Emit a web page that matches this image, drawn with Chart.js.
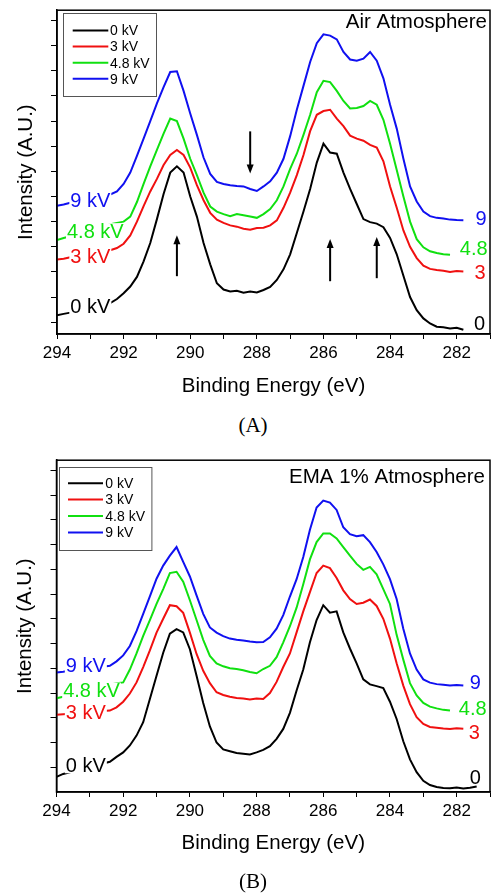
<!DOCTYPE html>
<html><head><meta charset="utf-8">
<script src="https://cdn.jsdelivr.net/npm/chart.js@4.4.0/dist/chart.umd.min.js"></script>
<style>
html,body{margin:0;padding:0;background:#fff;}
body{width:494px;height:894px;position:relative;overflow:hidden;}
.wrap{position:absolute;left:0;width:494px;}
.cap{position:absolute;left:6px;width:494px;text-align:center;font-family:'Liberation Serif','Times New Roman',serif;font-size:21px;line-height:24px;color:#000;}
</style></head><body>
<div class="wrap" style="top:0;height:400px"><canvas id="cA" width="494" height="400"></canvas></div>
<div class="wrap" style="top:450px;height:444px"><canvas id="cB" width="494" height="444"></canvas></div>
<div class="cap" style="top:413px">(A)</div>
<div class="cap" style="top:869px">(B)</div>
<script>
// ---------- DATA ----------
const energy = [
 294.0,293.8,293.6,293.4,293.2,293.0,292.8,292.6,292.4,292.2,
 292.0,291.8,291.6,291.4,291.2,291.0,290.8,290.6,290.4,290.2,
 290.0,289.8,289.6,289.4,289.2,289.0,288.8,288.6,288.4,288.2,
 288.0,287.8,287.6,287.4,287.2,287.0,286.8,286.6,286.4,286.2,
 286.0,285.8,285.6,285.4,285.2,285.0,284.8,284.6,284.4,284.2,
 284.0,283.8,283.6,283.4,283.2,283.0,282.8,282.6,282.4,282.2,
 282.0,281.8,281.6,281.4];
const seriesNames = ['0 kV','3 kV','4.8 kV','9 kV'];
const endLabels = ['0','3','4.8','9'];
const xTickValues = [281,282,283,284,285,286,287,288,289,290,291,292,293,294];
const yTicksA = [0,1,2,3,4,5,6,7,8,9,10,11,12];
const yTicksB = [1,2,3,4,5,6,7,8,9,10,11,12,13];

// Panel A: Air atmosphere
const air0 = [
 0.27,0.33,0.38,0.45,0.52,0.58,0.64,0.70,0.76,0.92,
 1.15,1.42,1.80,2.42,3.15,4.10,5.10,5.95,6.20,5.95,
 5.00,4.20,3.15,2.30,1.55,1.30,1.22,1.25,1.17,1.22,
 1.18,1.28,1.40,1.68,2.10,2.70,3.55,4.40,5.30,6.35,
 7.10,6.75,6.70,5.95,5.30,4.70,4.10,3.98,3.92,3.78,
 3.35,2.70,1.85,1.00,0.48,0.15,-0.05,-0.18,-0.20,-0.25,
 -0.22,-0.30,null,null];
const air3 = [
 2.49,2.52,2.58,2.63,2.68,2.73,2.78,2.82,2.86,2.95,
 3.12,3.45,4.00,4.62,5.20,5.70,6.25,6.65,6.85,6.65,
 6.15,5.45,4.85,4.35,4.08,3.95,3.85,3.80,3.72,3.68,
 3.75,3.76,3.85,4.05,4.55,5.15,5.85,6.65,7.60,8.25,
 8.40,8.45,8.10,7.80,7.42,7.30,7.22,7.05,6.95,6.40,
 5.40,4.55,3.65,3.00,2.55,2.25,2.12,2.08,2.05,2.00,
 2.04,2.02,null,null];
const air48 = [
 3.27,3.35,3.42,3.50,3.58,3.66,3.74,3.82,3.90,3.95,
 4.00,4.20,4.78,5.50,6.20,6.85,7.50,8.10,8.00,7.30,
 6.50,5.85,5.15,4.60,4.40,4.30,4.22,4.30,4.25,4.20,
 4.15,4.30,4.50,4.85,5.40,6.10,6.70,7.45,8.25,9.15,
 9.60,9.55,9.20,8.80,8.50,8.52,8.60,8.80,8.65,8.05,
 7.10,6.05,5.00,4.00,3.30,2.98,2.82,2.75,2.70,2.68,
 null,null,null,null];
const air9 = [
 4.63,4.68,4.75,4.82,4.88,4.93,4.98,5.03,5.08,5.20,
 5.50,5.95,6.62,7.30,8.00,8.70,9.35,9.95,9.98,9.20,
 8.30,7.45,6.55,5.90,5.58,5.50,5.45,5.42,5.40,5.30,
 5.22,5.40,5.60,5.95,6.50,7.40,8.45,9.40,10.35,11.10,
 11.45,11.40,11.25,10.75,10.45,10.40,10.48,10.75,10.40,9.70,
 8.65,7.70,6.50,5.40,4.80,4.40,4.22,4.15,4.12,4.08,
 4.06,4.05,null,null];

// Panel B: EMA 1% atmosphere
const ema0 = [
 0.61,0.73,0.80,0.87,0.94,1.01,1.08,1.15,1.22,1.42,
 1.60,1.88,2.28,2.82,3.76,4.70,5.63,6.40,6.58,6.45,
 5.77,4.70,3.60,2.65,2.00,1.72,1.65,1.58,1.55,1.52,
 1.60,1.70,1.85,2.15,2.55,3.20,4.10,4.95,6.05,6.95,
 7.55,7.25,7.30,6.45,5.80,5.20,4.55,4.35,4.28,4.20,
 3.65,2.95,2.05,1.32,0.80,0.45,0.28,0.20,0.16,0.15,
 0.18,0.14,0.17,0.22];
const ema3 = [
 3.12,3.14,3.16,3.18,3.20,3.22,3.24,3.27,3.29,3.42,
 3.65,3.98,4.43,5.05,5.72,6.44,7.00,7.55,7.51,7.24,
 6.44,5.58,4.90,4.40,4.03,3.92,3.85,3.80,3.78,3.74,
 3.78,3.76,4.00,4.45,5.05,5.60,6.45,7.30,8.08,8.85,
 9.15,9.05,8.65,8.15,7.80,7.60,7.65,7.78,7.52,7.00,
 6.20,5.20,4.30,3.55,3.02,2.75,2.63,2.60,2.57,2.55,
 2.58,2.56,null,null];
const ema48 = [
 3.79,3.85,3.92,3.99,4.06,4.13,4.20,4.27,4.34,4.40,
 4.43,4.95,5.60,6.31,6.95,7.60,8.20,8.85,8.90,8.50,
 7.75,6.95,6.15,5.50,5.20,5.08,5.00,4.97,4.92,4.85,
 4.80,4.97,5.10,5.45,6.05,6.70,7.45,8.40,9.40,10.10,
 10.45,10.45,10.25,9.90,9.55,9.22,8.98,9.10,8.80,8.20,
 7.60,6.35,5.35,4.40,3.90,3.60,3.45,3.38,3.32,3.29,
 null,null,null,null];
const ema9 = [
 4.83,4.86,4.90,4.93,4.96,5.00,5.03,5.06,5.10,5.28,
 5.52,5.90,6.50,7.20,7.91,8.62,9.15,9.55,9.90,9.30,
 8.71,7.95,7.20,6.65,6.44,6.30,6.20,6.15,6.12,6.08,
 6.05,6.06,6.25,6.60,7.15,7.90,8.60,9.50,10.60,11.50,
 11.78,11.70,11.40,10.70,10.42,10.34,10.38,10.10,9.70,9.20,
 8.60,7.80,6.60,5.60,4.95,4.55,4.42,4.36,4.33,4.30,
 4.32,4.30,null,null];

// Arrow annotations (panel A): energy, tail value, head value
const arrowE    = [290.4, 288.2, 285.8, 284.4];
const arrowTail = [1.83, 7.59, 1.63, 1.75];
const arrowHead = [3.46, 5.91, 3.31, 3.39];

// ---------- STYLE / LAYOUT ----------
const FONT = "'Liberation Sans', Arial, Helvetica, sans-serif";
const COLORS = ['#000000', '#f01010', '#10e010', '#1010f0'];
Chart.defaults.font.family = FONT;
Chart.defaults.color = '#000';

function toPoints(arr) {
  const pts = [];
  arr.forEach((v, i) => { if (v !== null) pts.push({x: energy[i], y: v}); });
  return pts;
}

const decoPlugin = {
  id: 'deco',
  afterDatasetsDraw(chart, args, o) {
    const {ctx, chartArea: a, scales: {x, y}} = chart;
    ctx.save();
    ctx.font = '20px ' + FONT;
    ctx.textBaseline = 'middle';
    o.leftPos.forEach((p, i) => {
      const px = x.getPixelForValue(p[0]), py = y.getPixelForValue(p[1]);
      const t = seriesNames[i];
      const w = ctx.measureText(t).width;
      ctx.fillStyle = '#fff';
      ctx.fillRect(px - 1, py - 8, w + 2, 16);
      ctx.fillStyle = COLORS[i];
      ctx.textAlign = 'left';
      ctx.fillText(t, px, py + 1);
    });
    o.rightPos.forEach((p, i) => {
      const px = x.getPixelForValue(p[0]), py = y.getPixelForValue(p[1]);
      ctx.fillStyle = COLORS[i];
      ctx.textAlign = 'right';
      ctx.fillText(endLabels[i], px, py + 1);
    });
    ctx.font = '20.5px ' + FONT;
    ctx.fillStyle = '#000';
    ctx.textAlign = 'right';
    ctx.fillText(o.title, a.right - o.titleDx, a.top + o.titleDy);
    if (o.arrows) {
      ctx.strokeStyle = '#000'; ctx.fillStyle = '#000'; ctx.lineWidth = 2;
      arrowE.forEach((e, i) => {
        const px = x.getPixelForValue(e);
        const y0 = y.getPixelForValue(arrowTail[i]);
        const y1 = y.getPixelForValue(arrowHead[i]);
        const dir = y1 < y0 ? -1 : 1;
        ctx.beginPath(); ctx.moveTo(px, y0); ctx.lineTo(px, y1 - dir * 7); ctx.stroke();
        ctx.beginPath(); ctx.moveTo(px, y1); ctx.lineTo(px - 3.5, y1 - dir * 9);
        ctx.lineTo(px + 3.5, y1 - dir * 9); ctx.closePath(); ctx.fill();
      });
    }
    const L = o.legend;
    const bx = a.left + L.dx, by = a.top + L.dy;
    ctx.fillStyle = '#fff'; ctx.fillRect(bx, by, L.w, L.h);
    ctx.strokeStyle = '#555'; ctx.lineWidth = 1;
    ctx.strokeRect(Math.round(bx) + 0.5, Math.round(by) + 0.5, L.w, L.h);
    ctx.font = '14px ' + FONT;
    ctx.textAlign = 'left';
    chart.data.datasets.forEach((ds, i) => {
      const ry = by + L.row0 + i * L.gap;
      ctx.strokeStyle = ds.borderColor; ctx.lineWidth = 2;
      ctx.beginPath(); ctx.moveTo(bx + L.l0, ry); ctx.lineTo(bx + L.l1, ry); ctx.stroke();
      ctx.fillStyle = '#000';
      ctx.fillText(ds.label, bx + L.tx, ry + 1);
    });
    ctx.strokeStyle = '#000'; ctx.lineWidth = 1.5;
    ctx.strokeRect(a.left, a.top, a.width, a.height);
    ctx.restore();
  }
};

function makeChart(id, series, cfg) {
  const datasets = series.map((s, i) => ({
    label: seriesNames[i], data: toPoints(s), borderColor: COLORS[i],
    borderWidth: 2, pointRadius: 0, fill: false, tension: 0
  }));
  return new Chart(document.getElementById(id), {
    type: 'line',
    data: {datasets},
    plugins: [decoPlugin],
    options: {
      responsive: false, animation: false, events: [],
      layout: {padding: {left: 0, top: cfg.padTop, right: 4, bottom: 0}},
      plugins: {legend: {display: false}, tooltip: {enabled: false}, deco: cfg.deco},
      scales: {
        x: {
          type: 'linear', reverse: true, min: 281, max: 294,
          afterBuildTicks: s => { s.ticks = xTickValues.map(v => ({value: v})); },
          afterFit: s => { s.height = cfg.xHeight; },
          ticks: {autoSkip: false, maxRotation: 0, padding: 4, font: {size: 17}, color: '#000',
                  callback: v => (v % 2 === 0 ? String(v) : '')},
          grid: {drawOnChartArea: false, drawTicks: true, tickLength: 5, color: '#000', tickColor: '#000'},
          border: {color: '#000', width: 1.5},
          title: {display: true, text: 'Binding Energy (eV)', font: {size: 20.5}, color: '#000',
                  padding: {top: 0, bottom: cfg.xTitlePad}}
        },
        y: {
          type: 'linear', min: cfg.yMin, max: cfg.yMax,
          afterBuildTicks: s => { s.ticks = cfg.yTicks.map(v => ({value: v})); },
          afterFit: s => { s.width = cfg.yWidth; },
          ticks: {callback: () => ''},
          grid: {drawOnChartArea: false, drawTicks: true, tickLength: 6, color: '#000', tickColor: '#000'},
          border: {color: '#000', width: 1.5},
          title: {display: true, text: 'Intensity (A.U.)', font: {size: 20.5}, color: '#000',
                  padding: {top: cfg.yTitlePad, bottom: 0}}
        }
      }
    }
  });
}

makeChart('cA', [air0, air3, air48, air9], {
  padTop: 3, xHeight: 66, yWidth: 57, yMin: -0.47, yMax: 12.41, yTicks: yTicksA,
  xTitlePad: 1.7, yTitlePad: 13.7,
  deco: {
    leftPos: [[293.6, 0.62], [293.6, 2.61], [293.7, 3.62], [293.6, 4.86]],
    rightPos: [[281.15, -0.04], [281.13, 1.98], [281.07, 2.92], [281.1, 4.12]],
    title: 'Air Atmosphere', titleDx: 3, titleDy: 12, arrows: true,
    legend: {dx: 6, dy: 3, w: 93, h: 83, row0: 17.3, gap: 16.1, l0: 9.7, l1: 45.3, tx: 47}
  }
});
makeChart('cB', [ema0, ema3, ema48, ema9], {
  padTop: 8, xHeight: 102, yWidth: 56.5, yMin: 0, yMax: 13.41, yTicks: yTicksB,
  xTitlePad: 38.7, yTitlePad: 12.7,
  deco: {
    leftPos: [[293.72, 1.08], [293.72, 3.21], [293.8, 4.10], [293.72, 5.10]],
    rightPos: [[281.27, 0.60], [281.3, 2.41], [281.1, 3.37], [281.27, 4.42]],
    title: 'EMA 1% Atmosphere', titleDx: 5, titleDy: 17, arrows: false,
    legend: {dx: 2.8, dy: 7, w: 92.4, h: 83, row0: 16, gap: 16.4, l0: 8.7, l1: 43.7, tx: 46}
  }
});
</script>
</body></html>
